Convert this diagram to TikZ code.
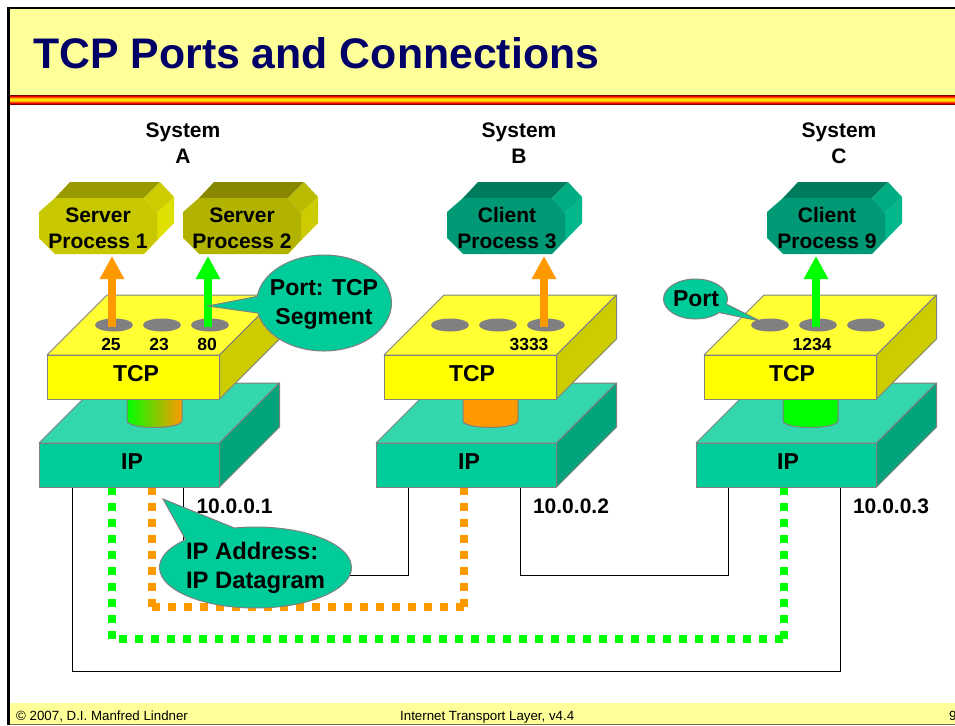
\documentclass[tikz,border=0pt]{standalone}
\usepackage{fontspec}
\setmainfont{Liberation Sans}
\usetikzlibrary{arrows.meta,shapes.geometric,shapes.callouts}
\definecolor{slideyellow}{HTML}{FFFF99}
\definecolor{slidenavy}{HTML}{000066}
\definecolor{edgegray}{HTML}{808080}
\definecolor{ipfront}{HTML}{00CC99}
\definecolor{iptop}{HTML}{33D6AD}
\definecolor{ipside}{HTML}{00A37A}
\definecolor{tcpfront}{HTML}{FFFF00}
\definecolor{tcptop}{HTML}{FFFF33}
\definecolor{tcpside}{HTML}{CCCC00}
\definecolor{portorange}{HTML}{FF9900}
\definecolor{portgreen}{HTML}{00FF00}
\definecolor{serveronefront}{HTML}{C8C800}
\definecolor{serveronetop}{HTML}{999900}
\definecolor{serveronecorner}{HTML}{CCCC00}
\definecolor{serveroneside}{HTML}{E0E000}
\definecolor{servertwofront}{HTML}{B2B200}
\definecolor{servertwotop}{HTML}{888800}
\definecolor{servertwocorner}{HTML}{BBBB00}
\definecolor{servertwoside}{HTML}{CCCC00}
\definecolor{clientfront}{HTML}{009975}
\definecolor{clienttop}{HTML}{007A5C}
\definecolor{clientcorner}{HTML}{00AD82}
\definecolor{clientside}{HTML}{00B88A}
\definecolor{stripedark}{HTML}{800000}
\definecolor{stripered}{HTML}{FF0000}
\definecolor{stripeorange}{HTML}{FF9900}
\definecolor{stripeyellow}{HTML}{FFFF00}
\pgfdeclareverticalshading{headerstripe}{100bp}{color(0bp)=(stripedark); color(25bp)=(stripedark); color(32bp)=(stripered); color(40bp)=(stripeorange); color(50bp)=(stripeyellow); color(60bp)=(stripeorange); color(68bp)=(stripered); color(75bp)=(stripedark); color(100bp)=(stripedark)}
\tikzset{
	face/.style={draw=edgegray, line width=1pt, line join=round},
	bold text/.style={font=\fontsize{21}{26}\selectfont\bfseries, align=center, inner sep=0pt},
	layer text/.style={font=\fontsize{23}{29}\selectfont\bfseries, inner sep=0pt},
	port number/.style={font=\fontsize{17.5}{20}\selectfont\bfseries, inner sep=0pt},
	port hole/.style={ellipse, fill=edgegray, minimum width=38pt, minimum height=13pt, inner sep=0pt},
	flow arrow/.style={line width=8pt, -{Triangle[width=23pt,length=23pt]}, #1},
	dotted link/.style={line width=8pt, dash pattern=on 8pt off 8pt, #1},
	wire/.style={draw=black, line width=1pt},
	bubble/.style={ellipse callout, draw=edgegray, fill=ipfront, line width=1pt, inner sep=0pt},
	footer text/.style={font=\fontsize{13.3}{15}\selectfont, inner sep=0pt, anchor=base west}
}
\begin{document}
\begin{tikzpicture}[x=1pt,y=-1pt]
	\useasboundingbox ( 0, 0 ) rectangle ( 955, 725 );
	% slide frame
	\fill [slideyellow] ( 8, 8 ) rectangle ( 955, 95 );
	\fill [slideyellow] ( 8, 703 ) rectangle ( 955, 725 );
	\fill [black!55!slideyellow] ( 8, 723.5 ) rectangle ( 955, 725 );
	\shade [shading=headerstripe] ( 7, 95 ) rectangle ( 955, 104 );
	\fill [black] ( 7, 7 ) rectangle ( 955, 9 );
	\fill [black] ( 7, 7 ) rectangle ( 10, 725 );
	\node [anchor=base west, inner sep=0pt, text=slidenavy, font=\fontsize{42.8}{50}\selectfont\bfseries] (title) at ( 33, 68 ) {TCP Ports and Connections};
	\node [footer text] (copyright) at ( 16, 720.5 ) {© 2007, D.I. Manfred Lindner};
	\node [footer text] (course) at ( 400, 720.5 ) {Internet Transport Layer, v4.4};
	\node [footer text] (pagenumber) at ( 949, 720.5 ) {9};
	% wires
	\coordinate (wireAa) at ( 72, 487 );
	\coordinate (wireAb) at ( 183.5, 487 );
	\coordinate (wireBa) at ( 408, 487 );
	\coordinate (wireBb) at ( 520, 487 );
	\coordinate (wireCa) at ( 728, 487 );
	\coordinate (wireCb) at ( 840, 487 );
	\draw [wire] (wireAa) -- ( 72, 671 ) -- ( 840, 671 ) -- (wireCb);
	\draw [wire] (wireAb) -- ( 183.5, 575 ) -- ( 408, 575 ) -- (wireBa);
	\draw [wire] (wireBb) -- ( 520, 575 ) -- ( 728, 575 ) -- (wireCa);
	% green path A to C
	\coordinate (greenA) at ( 112, 487 );
	\coordinate (greenAturn) at ( 112, 639 );
	\coordinate (greenBa) at ( 111.3, 639.3 );
	\coordinate (greenBb) at ( 784, 639.3 );
	\coordinate (greenCturn) at ( 784, 639 );
	\coordinate (greenC) at ( 784, 487 );
	\draw [dotted link=portgreen] (greenA) -- (greenAturn);
	\draw [dotted link=portgreen, dash phase=8pt] (greenBa) -- (greenBb);
	\draw [dotted link=portgreen] (greenC) -- (greenCturn);
	% orange path A to B
	\coordinate (orangeA) at ( 152, 487 );
	\coordinate (orangeAturn) at ( 152, 607 );
	\coordinate (orangeBa) at ( 151.7, 607 );
	\coordinate (orangeBb) at ( 463.7, 607 );
	\coordinate (orangeBturn) at ( 464, 607 );
	\coordinate (orangeB) at ( 464, 487 );
	\draw [dotted link=portorange] (orangeA) -- (orangeAturn);
	\draw [dotted link=portorange] (orangeBa) -- (orangeBb);
	\draw [dotted link=portorange] (orangeB) -- (orangeBturn);
	% system A
	\draw [face, fill=iptop] ( 39, 443 ) -- ( 99, 383 ) -- ( 279.5, 383 ) -- ( 219.5, 443 ) -- cycle;
	\draw [face, fill=ipside] ( 219.5, 443 ) -- ( 279.5, 383 ) -- ( 279.5, 427 ) -- ( 219.5, 487 ) -- cycle;
	\draw [face, fill=ipfront] ( 39, 443 ) rectangle ( 219.5, 487 );
	\draw [face, left color=portgreen, right color=portorange] ( 127, 399 ) -- ( 127, 421 ) arc [start angle=180, end angle=0, x radius=27.5, y radius=6.5] -- ( 182, 399 ) -- cycle;
	\draw [face, fill=tcptop] ( 47, 355 ) -- ( 107, 295 ) -- ( 279.5, 295 ) -- ( 219.5, 355 ) -- cycle;
	\draw [face, fill=tcpside] ( 219.5, 355 ) -- ( 279.5, 295 ) -- ( 279.5, 339 ) -- ( 219.5, 399 ) -- cycle;
	\draw [face, fill=tcpfront] ( 47, 355 ) rectangle ( 219.5, 399 );
	\node [layer text] (tcpA) at ( 136, 374 ) {TCP};
	\node [layer text] (ipA) at ( 132, 462 ) {IP};
	\node [port hole] (portAa) at ( 114, 325 ) {};
	\node [port hole] (portAb) at ( 162, 325 ) {};
	\node [port hole] (portAc) at ( 210, 325 ) {};
	\node [port number] (numberAa) at ( 111, 344 ) {25};
	\node [port number] (numberAb) at ( 159, 344 ) {23};
	\node [port number] (numberAc) at ( 207, 344 ) {80};
	\node [bold text] (systemA) at ( 183, 143 ) {System\\A};
	% system B
	\draw [face, fill=iptop] ( 376, 443 ) -- ( 436, 383 ) -- ( 616.5, 383 ) -- ( 556.5, 443 ) -- cycle;
	\draw [face, fill=ipside] ( 556.5, 443 ) -- ( 616.5, 383 ) -- ( 616.5, 427 ) -- ( 556.5, 487 ) -- cycle;
	\draw [face, fill=ipfront] ( 376, 443 ) rectangle ( 556.5, 487 );
	\draw [face, fill=portorange] ( 463, 399 ) -- ( 463, 421 ) arc [start angle=180, end angle=0, x radius=27.5, y radius=6.5] -- ( 518, 399 ) -- cycle;
	\draw [face, fill=tcptop] ( 384, 355 ) -- ( 444, 295 ) -- ( 616.5, 295 ) -- ( 556.5, 355 ) -- cycle;
	\draw [face, fill=tcpside] ( 556.5, 355 ) -- ( 616.5, 295 ) -- ( 616.5, 339 ) -- ( 556.5, 399 ) -- cycle;
	\draw [face, fill=tcpfront] ( 384, 355 ) rectangle ( 556.5, 399 );
	\node [layer text] (tcpB) at ( 472, 374 ) {TCP};
	\node [layer text] (ipB) at ( 469, 462 ) {IP};
	\node [port hole] (portBa) at ( 450, 325 ) {};
	\node [port hole] (portBb) at ( 498, 325 ) {};
	\node [port hole] (portBc) at ( 546, 325 ) {};
	\node [port number] (numberBc) at ( 529, 344 ) {3333};
	\node [bold text] (systemB) at ( 519, 143 ) {System\\B};
	% system C
	\draw [face, fill=iptop] ( 696, 443 ) -- ( 756, 383 ) -- ( 936.5, 383 ) -- ( 876.5, 443 ) -- cycle;
	\draw [face, fill=ipside] ( 876.5, 443 ) -- ( 936.5, 383 ) -- ( 936.5, 427 ) -- ( 876.5, 487 ) -- cycle;
	\draw [face, fill=ipfront] ( 696, 443 ) rectangle ( 876.5, 487 );
	\draw [face, fill=portgreen] ( 783, 399 ) -- ( 783, 421 ) arc [start angle=180, end angle=0, x radius=27.5, y radius=6.5] -- ( 838, 399 ) -- cycle;
	\draw [face, fill=tcptop] ( 704, 355 ) -- ( 764, 295 ) -- ( 936.5, 295 ) -- ( 876.5, 355 ) -- cycle;
	\draw [face, fill=tcpside] ( 876.5, 355 ) -- ( 936.5, 295 ) -- ( 936.5, 339 ) -- ( 876.5, 399 ) -- cycle;
	\draw [face, fill=tcpfront] ( 704, 355 ) rectangle ( 876.5, 399 );
	\node [layer text] (tcpC) at ( 792, 374 ) {TCP};
	\node [layer text] (ipC) at ( 788, 462 ) {IP};
	\node [port hole] (portCa) at ( 770, 325 ) {};
	\node [port hole] (portCb) at ( 818, 325 ) {};
	\node [port hole] (portCc) at ( 866, 325 ) {};
	\node [port number] (numberCb) at ( 812, 344 ) {1234};
	\node [bold text] (systemC) at ( 839, 143 ) {System\\C};
	% server process 1
	\fill [serveronetop] ( 55, 198 ) -- ( 70, 182 ) -- ( 160, 182 ) -- ( 144, 198 ) -- cycle;
	\fill [serveronecorner] ( 144, 198 ) -- ( 160, 182 ) -- ( 174, 197 ) -- ( 157, 213 ) -- cycle;
	\fill [serveroneside] ( 157, 213 ) -- ( 174, 197 ) -- ( 174, 223 ) -- ( 144, 254 ) -- ( 157, 240 ) -- cycle;
	\fill [serveronefront] ( 55, 198 ) -- ( 144, 198 ) -- ( 157, 213 ) -- ( 157, 240 ) -- ( 144, 254 ) -- ( 55, 254 ) -- ( 39, 238 ) -- ( 39, 212 ) -- cycle;
	\node [bold text] (processA) at ( 98, 228 ) {Server\\Process 1};
	% server process 2
	\fill [servertwotop] ( 199, 198 ) -- ( 214, 182 ) -- ( 304, 182 ) -- ( 288, 198 ) -- cycle;
	\fill [servertwocorner] ( 288, 198 ) -- ( 304, 182 ) -- ( 318, 197 ) -- ( 301, 213 ) -- cycle;
	\fill [servertwoside] ( 301, 213 ) -- ( 318, 197 ) -- ( 318, 223 ) -- ( 288, 254 ) -- ( 301, 240 ) -- cycle;
	\fill [servertwofront] ( 199, 198 ) -- ( 288, 198 ) -- ( 301, 213 ) -- ( 301, 240 ) -- ( 288, 254 ) -- ( 199, 254 ) -- ( 183, 238 ) -- ( 183, 212 ) -- cycle;
	\node [bold text] (processB) at ( 242, 228 ) {Server\\Process 2};
	% client process 3
	\fill [clienttop] ( 463, 198 ) -- ( 478, 182 ) -- ( 568, 182 ) -- ( 552, 198 ) -- cycle;
	\fill [clientcorner] ( 552, 198 ) -- ( 568, 182 ) -- ( 582, 197 ) -- ( 565, 213 ) -- cycle;
	\fill [clientside] ( 565, 213 ) -- ( 582, 197 ) -- ( 582, 223 ) -- ( 552, 254 ) -- ( 565, 240 ) -- cycle;
	\fill [clientfront] ( 463, 198 ) -- ( 552, 198 ) -- ( 565, 213 ) -- ( 565, 240 ) -- ( 552, 254 ) -- ( 463, 254 ) -- ( 447, 238 ) -- ( 447, 212 ) -- cycle;
	\node [bold text] (processC) at ( 507, 228 ) {Client\\Process 3};
	% client process 9
	\fill [clienttop] ( 783, 198 ) -- ( 798, 182 ) -- ( 888, 182 ) -- ( 872, 198 ) -- cycle;
	\fill [clientcorner] ( 872, 198 ) -- ( 888, 182 ) -- ( 902, 197 ) -- ( 885, 213 ) -- cycle;
	\fill [clientside] ( 885, 213 ) -- ( 902, 197 ) -- ( 902, 223 ) -- ( 872, 254 ) -- ( 885, 240 ) -- cycle;
	\fill [clientfront] ( 783, 198 ) -- ( 872, 198 ) -- ( 885, 213 ) -- ( 885, 240 ) -- ( 872, 254 ) -- ( 783, 254 ) -- ( 767, 238 ) -- ( 767, 212 ) -- cycle;
	\node [bold text] (processD) at ( 827, 228 ) {Client\\Process 9};
	% flows up to the processes
	\coordinate (flowAa) at ( 112, 327 );
	\coordinate (flowAc) at ( 208, 327 );
	\coordinate (flowBc) at ( 544, 327 );
	\coordinate (flowCb) at ( 816, 327 );
	\coordinate (tipAa) at ( 112, 256 );
	\coordinate (tipAc) at ( 208, 256 );
	\coordinate (tipBc) at ( 544, 256 );
	\coordinate (tipCb) at ( 816, 256 );
	\draw [flow arrow=portorange] (flowAa) -- (tipAa);
	\draw [flow arrow=portgreen] (flowAc) -- (tipAc);
	\draw [flow arrow=portorange] (flowBc) -- (tipBc);
	\draw [flow arrow=portgreen] (flowCb) -- (tipCb);
	% addresses
	\node [bold text] (addressA) at ( 234.5, 506 ) {10.0.0.1};
	\node [bold text] (addressB) at ( 571, 506 ) {10.0.0.2};
	\node [bold text] (addressC) at ( 891, 506 ) {10.0.0.3};
	% callouts
	\node [bubble, minimum width=135pt, minimum height=96pt, callout absolute pointer={( 208, 306 )}, callout pointer arc=20] (segmentcallout) at ( 324, 303 ) {};
	\node [layer text, align=center] (segmentlabel) at ( 324, 304 ) {Port: TCP\\Segment};
	\node [bubble, minimum width=64pt, minimum height=40pt, callout absolute pointer={( 760, 321 )}, callout pointer arc=28] (portcallout) at ( 695.5, 299 ) {};
	\node [layer text] (portlabel) at ( 696, 299 ) {Port};
	\node [bubble, minimum width=192pt, minimum height=81pt, callout absolute pointer={( 163, 499 )}, callout pointer arc=34] (ipcallout) at ( 255.5, 567.5 ) {};
	\node [layer text, align=left, font=\fontsize{23.8}{29}\selectfont\bfseries] (iplabel) at ( 255.5, 568 ) {IP Address:\\IP Datagram};
\end{tikzpicture}
\end{document}
